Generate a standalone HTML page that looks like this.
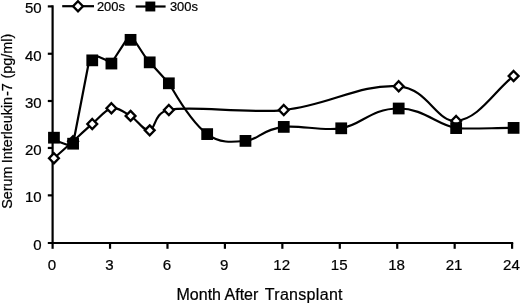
<!DOCTYPE html>
<html><head><meta charset="utf-8"><title>Chart</title>
<style>html,body{margin:0;padding:0;background:#fff}body{width:520px;height:304px;position:relative;overflow:hidden}</style>
</head><body>
<svg width="520" height="304" viewBox="0 0 520 304" style="position:absolute;left:0;top:0">
<rect width="520" height="304" fill="#fff"/>
<g stroke="#000" stroke-width="2.2" fill="none" stroke-linecap="butt">
<path d="M52.6 5.30 V248.80"/>
<path d="M47.80 243.0 H513.2"/>
<path d="M47.80 195.35 H52.6"/>
<path d="M47.80 147.95 H52.6"/>
<path d="M47.80 101.00 H52.6"/>
<path d="M47.80 53.75 H52.6"/>
<path d="M47.80 6.40 H52.6"/>
<path d="M110.04 243.0 V248.80"/>
<path d="M167.48 243.0 V248.80"/>
<path d="M224.91 243.0 V248.80"/>
<path d="M282.35 243.0 V248.80"/>
<path d="M339.79 243.0 V248.80"/>
<path d="M397.23 243.0 V248.80"/>
<path d="M454.67 243.0 V248.80"/>
<path d="M512.10 243.0 V248.80"/>
</g>
<path d="M53.95 158.25 C57.14 155.41 69.91 144.06 73.10 141.20 C76.29 138.34 85.87 129.43 92.25 123.95 C98.64 118.47 105.02 109.64 111.41 108.30 C117.79 106.96 124.17 112.23 130.56 115.90 C136.94 119.58 143.33 131.33 149.71 130.35 C155.63 129.44 153.67 112.30 168.86 110.00 C191.21 105.12 245.47 114.00 283.77 110.05 C329.74 105.31 358.47 83.74 398.69 86.30 C427.41 88.12 436.99 122.72 456.14 121.00 C479.12 118.94 494.45 91.00 513.60 76.00" stroke="#000" stroke-width="2.2" fill="none" stroke-linejoin="round"/>
<path d="M53.95 153.25 L58.85 158.25 L53.95 163.25 L49.05 158.25 Z" fill="#fff" stroke="#000" stroke-width="2.35"/>
<path d="M73.10 136.20 L78.00 141.20 L73.10 146.20 L68.20 141.20 Z" fill="#fff" stroke="#000" stroke-width="2.35"/>
<path d="M92.25 118.95 L97.15 123.95 L92.25 128.95 L87.35 123.95 Z" fill="#fff" stroke="#000" stroke-width="2.35"/>
<path d="M111.41 103.30 L116.31 108.30 L111.41 113.30 L106.51 108.30 Z" fill="#fff" stroke="#000" stroke-width="2.35"/>
<path d="M130.56 110.90 L135.46 115.90 L130.56 120.90 L125.66 115.90 Z" fill="#fff" stroke="#000" stroke-width="2.35"/>
<path d="M149.71 125.35 L154.61 130.35 L149.71 135.35 L144.81 130.35 Z" fill="#fff" stroke="#000" stroke-width="2.35"/>
<path d="M168.86 105.00 L173.76 110.00 L168.86 115.00 L163.96 110.00 Z" fill="#fff" stroke="#000" stroke-width="2.35"/>
<path d="M283.77 105.05 L288.67 110.05 L283.77 115.05 L278.87 110.05 Z" fill="#fff" stroke="#000" stroke-width="2.35"/>
<path d="M398.69 81.30 L403.59 86.30 L398.69 91.30 L393.79 86.30 Z" fill="#fff" stroke="#000" stroke-width="2.35"/>
<path d="M456.14 116.00 L461.04 121.00 L456.14 126.00 L451.24 121.00 Z" fill="#fff" stroke="#000" stroke-width="2.35"/>
<path d="M513.60 71.00 L518.50 76.00 L513.60 81.00 L508.70 76.00 Z" fill="#fff" stroke="#000" stroke-width="2.35"/>
<path d="M53.95 137.70 L59.50 142.00 L67.00 144.70 L73.10 143.70 L88.90 62.00 L92.25 60.35 L95.50 56.30 L98.00 56.50 L105.50 59.80 L111.41 63.55 L115.00 57.50 L124.50 42.80 L126.40 39.85 L130.56 39.85 L134.10 39.85 L136.50 43.50 L145.00 56.50 L149.71 62.35 C149.71 62.35 168.86 83.30 168.86 83.30 C171.73 86.89 188.01 119.70 207.17 134.10 C219.93 143.70 232.70 142.10 245.47 140.90 C259.51 139.58 259.83 130.05 283.77 126.90 C299.73 124.80 322.08 131.37 341.23 128.30 C362.30 124.93 369.96 108.55 398.69 108.50 C423.58 108.46 436.99 124.87 456.14 128.10 C462.85 129.23 494.45 127.97 513.60 127.90" stroke="#000" stroke-width="2.2" fill="none" stroke-linejoin="round"/>
<rect x="48.07" y="131.82" width="11.76" height="11.76" fill="#000"/>
<rect x="67.22" y="137.82" width="11.76" height="11.76" fill="#000"/>
<rect x="86.37" y="54.47" width="11.76" height="11.76" fill="#000"/>
<rect x="105.53" y="57.67" width="11.76" height="11.76" fill="#000"/>
<rect x="124.68" y="33.97" width="11.76" height="11.76" fill="#000"/>
<rect x="143.83" y="56.47" width="11.76" height="11.76" fill="#000"/>
<rect x="162.98" y="77.42" width="11.76" height="11.76" fill="#000"/>
<rect x="201.29" y="128.22" width="11.76" height="11.76" fill="#000"/>
<rect x="239.59" y="135.02" width="11.76" height="11.76" fill="#000"/>
<rect x="277.89" y="121.02" width="11.76" height="11.76" fill="#000"/>
<rect x="335.35" y="122.42" width="11.76" height="11.76" fill="#000"/>
<rect x="392.81" y="102.62" width="11.76" height="11.76" fill="#000"/>
<rect x="450.26" y="122.22" width="11.76" height="11.76" fill="#000"/>
<rect x="507.72" y="122.02" width="11.76" height="11.76" fill="#000"/>
<path d="M62.2 6.2 H94" stroke="#000" stroke-width="2.2"/>
<path d="M78.00 1.20 L82.90 6.20 L78.00 11.20 L73.10 6.20 Z" fill="#fff" stroke="#000" stroke-width="2.35"/>
<path d="M135.7 6.5 H165.6" stroke="#000" stroke-width="2.2"/>
<rect x="145.40" y="1.55" width="9.90" height="9.90" fill="#000"/>
<text x="96.9" y="10.7" font-size="12.9" font-family="Liberation Sans, Arial, sans-serif" fill="#000" stroke="#000" stroke-width="0.22">200s</text>
<text x="169.9" y="10.9" font-size="12.9" font-family="Liberation Sans, Arial, sans-serif" fill="#000" stroke="#000" stroke-width="0.22">300s</text>
<text x="41.6" y="249.80" font-size="15.0" text-anchor="end" font-family="Liberation Sans, Arial, sans-serif" fill="#000" stroke="#000" stroke-width="0.22">0</text>
<text x="41.6" y="202.48" font-size="15.0" text-anchor="end" font-family="Liberation Sans, Arial, sans-serif" fill="#000" stroke="#000" stroke-width="0.22">10</text>
<text x="41.6" y="155.16" font-size="15.0" text-anchor="end" font-family="Liberation Sans, Arial, sans-serif" fill="#000" stroke="#000" stroke-width="0.22">20</text>
<text x="41.6" y="107.84" font-size="15.0" text-anchor="end" font-family="Liberation Sans, Arial, sans-serif" fill="#000" stroke="#000" stroke-width="0.22">30</text>
<text x="41.6" y="60.52" font-size="15.0" text-anchor="end" font-family="Liberation Sans, Arial, sans-serif" fill="#000" stroke="#000" stroke-width="0.22">40</text>
<text x="41.6" y="13.20" font-size="15.0" text-anchor="end" font-family="Liberation Sans, Arial, sans-serif" fill="#000" stroke="#000" stroke-width="0.22">50</text>
<text x="52.00" y="270.4" font-size="15.1" text-anchor="middle" font-family="Liberation Sans, Arial, sans-serif" fill="#000" stroke="#000" stroke-width="0.22">0</text>
<text x="109.44" y="270.4" font-size="15.1" text-anchor="middle" font-family="Liberation Sans, Arial, sans-serif" fill="#000" stroke="#000" stroke-width="0.22">3</text>
<text x="166.88" y="270.4" font-size="15.1" text-anchor="middle" font-family="Liberation Sans, Arial, sans-serif" fill="#000" stroke="#000" stroke-width="0.22">6</text>
<text x="224.31" y="270.4" font-size="15.1" text-anchor="middle" font-family="Liberation Sans, Arial, sans-serif" fill="#000" stroke="#000" stroke-width="0.22">9</text>
<text x="281.75" y="270.4" font-size="15.1" text-anchor="middle" font-family="Liberation Sans, Arial, sans-serif" fill="#000" stroke="#000" stroke-width="0.22">12</text>
<text x="339.19" y="270.4" font-size="15.1" text-anchor="middle" font-family="Liberation Sans, Arial, sans-serif" fill="#000" stroke="#000" stroke-width="0.22">15</text>
<text x="396.63" y="270.4" font-size="15.1" text-anchor="middle" font-family="Liberation Sans, Arial, sans-serif" fill="#000" stroke="#000" stroke-width="0.22">18</text>
<text x="454.07" y="270.4" font-size="15.1" text-anchor="middle" font-family="Liberation Sans, Arial, sans-serif" fill="#000" stroke="#000" stroke-width="0.22">21</text>
<text x="511.50" y="270.4" font-size="15.1" text-anchor="middle" font-family="Liberation Sans, Arial, sans-serif" fill="#000" stroke="#000" stroke-width="0.22">24</text>
<text x="176.5" y="300" font-size="16" font-family="Liberation Sans, Arial, sans-serif" fill="#000" stroke="#000" stroke-width="0.22">Month After <tspan dx="2.0" style="letter-spacing:0.31px">Transplant</tspan></text>
<text transform="translate(11.8 208.85) rotate(-90)" font-size="14.4" font-family="Liberation Sans, Arial, sans-serif" fill="#000" stroke="#000" stroke-width="0.22">Serum <tspan dx="-0.8">Interleukin</tspan><tspan dx="0.85">-7 </tspan><tspan dx="0.65">(pg/ml)</tspan></text>
</svg>
</body></html>
